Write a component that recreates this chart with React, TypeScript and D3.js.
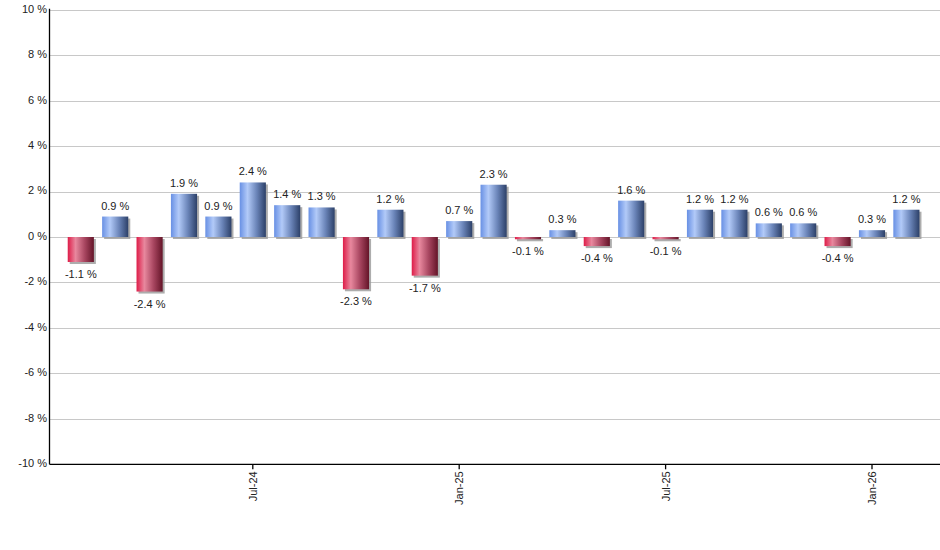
import React from "react";
import * as d3 from "d3";

const months = [
  "Feb-24","Mar-24","Apr-24","May-24","Jun-24","Jul-24","Aug-24","Sep-24","Oct-24","Nov-24","Dec-24",
  "Jan-25","Feb-25","Mar-25","Apr-25","May-25","Jun-25","Jul-25","Aug-25","Sep-25","Oct-25","Nov-25","Dec-25",
  "Jan-26","Feb-26",
];
const values = [
  -1.1, 0.9, -2.4, 1.9, 0.9, 2.4, 1.4, 1.3, -2.3, 1.2, -1.7,
  0.7, 2.3, -0.1, 0.3, -0.4, 1.6, -0.1, 1.2, 1.2, 0.6, 0.6, -0.4,
  0.3, 1.2,
];
const xTickLabels = ["Jul-24", "Jan-25", "Jul-25", "Jan-26"];
const yTicks = [-10, -8, -6, -4, -2, 0, 2, 4, 6, 8, 10];

const W = 940;
const H = 550;
const plotLeft = 49.5;
const plotRight = 940;
const plotTop = 9.7;
const plotBottom = 464.3;

export default function App() {
  const x = d3
    .scaleBand<string>()
    .domain(months)
    .range([63.6, 923.6])
    .paddingInner(0.24)
    .paddingOuter(0.12);
  const y = d3.scaleLinear().domain([-10, 10]).range([plotBottom, plotTop]);
  const font = "'Liberation Sans', Arial, sans-serif";
  const bw = x.bandwidth();

  return (
    <svg
      width={W}
      height={H}
      style={{ position: "absolute", left: 0, top: 0, background: "#fff" }}
      fontFamily={font}
    >
      <defs>
        <linearGradient id="gBlue" x1="0" x2="1" y1="0" y2="0">
          <stop offset="0" stopColor="#6890e4" />
          <stop offset="0.3" stopColor="#b2caf8" />
          <stop offset="0.65" stopColor="#6a84b8" />
          <stop offset="1" stopColor="#2c4068" />
        </linearGradient>
        <linearGradient id="gRed" x1="0" x2="1" y1="0" y2="0">
          <stop offset="0" stopColor="#de1c48" />
          <stop offset="0.3" stopColor="#e8889e" />
          <stop offset="0.65" stopColor="#a84660" />
          <stop offset="1" stopColor="#641428" />
        </linearGradient>
      </defs>

      {/* grid */}
      {yTicks.map((t) => (
        <line
          key={"g" + t}
          x1={plotLeft}
          x2={plotRight}
          y1={Math.round(y(t)) + 0.5}
          y2={Math.round(y(t)) + 0.5}
          stroke="#c8c8c8"
          strokeWidth={1}
        />
      ))}

      {/* y labels */}
      {yTicks.map((t) => (
        <text
          key={"yl" + t}
          x={47}
          y={y(t)}
          textAnchor="end"
          dominantBaseline="middle"
          fontSize={11}
          fill="#222"
        >
          {t} %
        </text>
      ))}

      {/* bars */}
      {values.map((v, i) => {
        const x0 = x(months[i])!;
        const y0 = y(Math.max(0, v));
        const h = Math.abs(y(v) - y(0));
        return (
          <g key={"b" + i}>
            <rect x={x0 + 2} y={y0 + 2} width={bw} height={h} fill="#999" opacity={0.8} />
            <rect x={x0} y={y0} width={bw} height={h} fill={v >= 0 ? "url(#gBlue)" : "url(#gRed)"} />
          </g>
        );
      })}

      {/* value labels */}
      {values.map((v, i) => {
        const cx = x(months[i])! + bw / 2;
        const ly = v >= 0 ? y(v) - 7 : y(v) + 16;
        return (
          <text key={"vl" + i} x={cx} y={ly} textAnchor="middle" fontSize={11} fill="#222">
            {v.toFixed(1)} %
          </text>
        );
      })}

      {/* axes */}
      <line x1={plotLeft} x2={plotLeft} y1={plotTop - 1} y2={plotBottom} stroke="#000" strokeWidth={1.3} />
      <line x1={plotLeft} x2={plotRight} y1={plotBottom} y2={plotBottom} stroke="#000" strokeWidth={1.3} />

      {/* x ticks */}
      {xTickLabels.map((m) => {
        const cx = x(m)! + bw / 2;
        return (
          <g key={"xt" + m}>
            <line x1={cx} x2={cx} y1={plotBottom} y2={plotBottom + 5} stroke="#000" strokeWidth={1.3} />
            <text
              transform={`translate(${cx + 4}, ${plotBottom + 7}) rotate(-90)`}
              textAnchor="end"
              fontSize={11}
              fill="#222"
            >
              {m}
            </text>
          </g>
        );
      })}
    </svg>
  );
}
